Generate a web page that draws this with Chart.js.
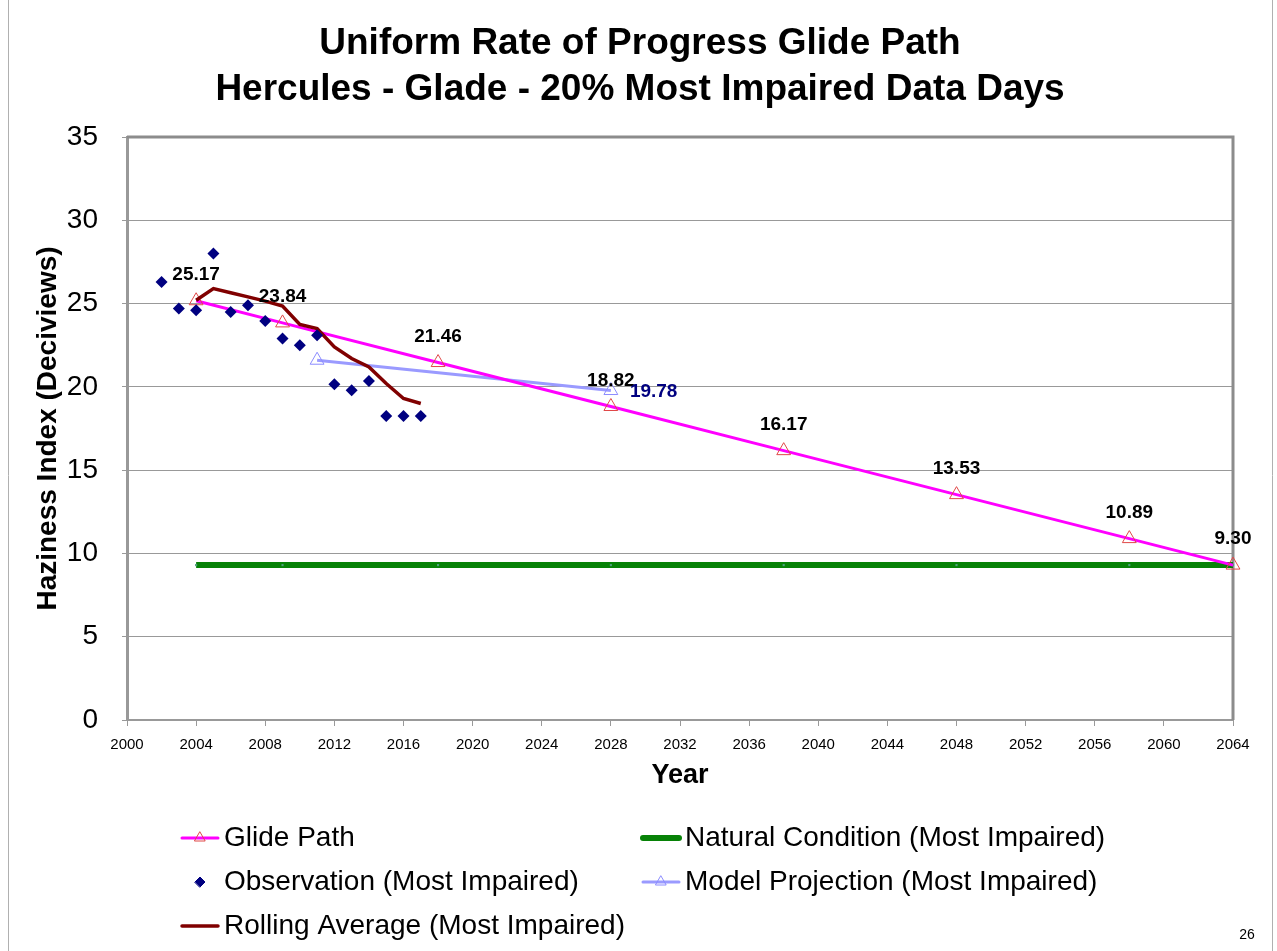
<!DOCTYPE html>
<html>
<head>
<meta charset="utf-8">
<script src="https://cdn.jsdelivr.net/npm/chart.js@4.4.1/dist/chart.umd.min.js"></script>
<style>
  html, body { margin: 0; padding: 0; background: #fff; }
  #wrap { position: relative; width: 1277px; height: 951px; }
</style>
</head>
<body>
<div id="wrap"><canvas id="chart" width="1277" height="951"></canvas></div>
<script>
// Glide path (uniform rate of progress)
const glideYears = [2004, 2009, 2018, 2028, 2038, 2048, 2058, 2064];
const glideValues = [25.17, 23.84, 21.46, 18.82, 16.17, 13.53, 10.89, 9.30];

// Natural condition (most impaired)
const naturalYears = [2004, 2009, 2018, 2028, 2038, 2048, 2058, 2064];
const naturalValues = [9.30, 9.30, 9.30, 9.30, 9.30, 9.30, 9.30, 9.30];

// Observations (most impaired)
const obsYears = [2002, 2003, 2004, 2005, 2006, 2007, 2008, 2009, 2010, 2011, 2012, 2013, 2014, 2015, 2016, 2017];
const obsValues = [26.3, 24.7, 24.6, 28.0, 24.5, 24.9, 23.95, 22.9, 22.5, 23.1, 20.15, 19.8, 20.35, 18.25, 18.25, 18.25];

// Model projection (most impaired)
const modelYears = [2011, 2028];
const modelValues = [21.6, 19.78];

// Rolling average (most impaired)
const rollYears = [2004, 2005, 2006, 2007, 2008, 2009, 2010, 2011, 2012, 2013, 2014, 2015, 2016, 2017];
const rollValues = [25.2, 25.9, 25.65, 25.4, 25.15, 24.85, 23.75, 23.5, 22.4, 21.7, 21.2, 20.2, 19.3, 19.0];

const xTicks = [2000, 2004, 2008, 2012, 2016, 2020, 2024, 2028, 2032, 2036, 2040, 2044, 2048, 2052, 2056, 2060, 2064];

const toXY = (xs, ys) => xs.map((x, i) => ({ x: x, y: ys[i] }));

const FONT = "'Liberation Sans', Arial, sans-serif";

// plot frame, title, value labels, legend and page number
const decorPlugin = {
    id: 'decor',
    beforeDatasetsDraw(chart) {
        const ctx = chart.ctx;
        const a = chart.chartArea;
        ctx.save();
        ctx.strokeStyle = '#8c8c8c';
        ctx.lineWidth = 3;
        ctx.beginPath();
        ctx.moveTo(a.left, a.top);
        ctx.lineTo(a.right, a.top);
        ctx.lineTo(a.right, a.bottom);
        ctx.stroke();
        // slide frame edges
        ctx.strokeStyle = '#b0b0b0';
        ctx.lineWidth = 1;
        ctx.beginPath();
        ctx.moveTo(8.5, 0);
        ctx.lineTo(8.5, 951);
        ctx.moveTo(1272.5, 0);
        ctx.lineTo(1272.5, 951);
        ctx.stroke();
        ctx.restore();
    },
    afterDatasetsDraw(chart) {
        const ctx = chart.ctx;
        ctx.save();
        // glide path value labels
        const glideMeta = chart.getDatasetMeta(0);
        ctx.font = 'bold 19px ' + FONT;
        ctx.fillStyle = '#000';
        ctx.textAlign = 'center';
        ctx.textBaseline = 'middle';
        glideMeta.data.forEach((pt, i) => {
            ctx.fillText(glideValues[i].toFixed(2), pt.x, pt.y - 26);
        });
        // model projection end label
        const modelMeta = chart.getDatasetMeta(3);
        const last = modelMeta.data[modelMeta.data.length - 1];
        ctx.fillStyle = '#000080';
        ctx.textAlign = 'left';
        ctx.fillText(modelValues[modelValues.length - 1].toFixed(2), last.x + 19, last.y + 1);
        ctx.restore();
    },
    afterDraw(chart) {
        const ctx = chart.ctx;
        ctx.save();
        ctx.fillStyle = '#000';
        ctx.textAlign = 'center';
        ctx.textBaseline = 'middle';
        ctx.font = 'bold 37px ' + FONT;
        ctx.fillText('Uniform Rate of Progress Glide Path', 640, 44);
        ctx.fillText('Hercules - Glade - 20% Most Impaired Data Days', 640, 90);

        // legend
        const items = [
            { ds: 0, x: 180, y: 838 },
            { ds: 1, x: 641, y: 838 },
            { ds: 2, x: 180, y: 882 },
            { ds: 3, x: 641, y: 882 },
            { ds: 4, x: 180, y: 926 }
        ];
        items.forEach(it => {
            const ds = chart.data.datasets[it.ds];
            const cx = it.x + 20;
            if (ds.showLine !== false) {
                ctx.strokeStyle = ds.borderColor;
                ctx.lineWidth = ds.legendWidth || ds.borderWidth;
                ctx.lineCap = 'round';
                ctx.beginPath();
                ctx.moveTo(it.x + 2, it.y);
                ctx.lineTo(it.x + 38, it.y);
                ctx.stroke();
            }
            if (ds.legendMarker) {
                ctx.fillStyle = ds.pointBackgroundColor;
                ctx.strokeStyle = ds.pointBorderColor;
                ctx.lineWidth = 1;
                Chart.helpers.drawPoint(ctx, {
                    pointStyle: ds.pointStyle,
                    radius: ds.legendMarker,
                    borderWidth: 1,
                    rotation: 0
                }, cx, it.y);
            }
            ctx.fillStyle = '#000';
            ctx.textAlign = 'left';
            ctx.font = '28px ' + FONT;
            ctx.fillText(ds.label, it.x + 44, it.y);
        });

        ctx.font = '14px ' + FONT;
        ctx.textAlign = 'center';
        ctx.fillText('26', 1247, 935);
        ctx.restore();
    }
};

new Chart(document.getElementById('chart'), {
    type: 'line',
    data: {
        datasets: [
            {
                label: 'Glide Path',
                data: toXY(glideYears, glideValues),
                borderColor: '#FF00FF',
                borderWidth: 3,
                pointStyle: 'triangle',
                pointRadius: 8,
                pointBorderWidth: 1,
                pointBorderColor: '#E04848',
                pointBackgroundColor: 'rgba(255,255,255,0)',
                legendMarker: 6,
                clip: false,
                order: 3
            },
            {
                label: 'Natural Condition (Most Impaired)',
                data: toXY(naturalYears, naturalValues),
                borderColor: '#078207',
                borderWidth: 6,
                legendWidth: 6,
                pointStyle: 'rect',
                pointRadius: 1.5,
                pointBorderWidth: 0,
                pointBackgroundColor: '#4f9f7f',
                clip: false,
                order: 5
            },
            {
                label: 'Observation (Most Impaired)',
                data: toXY(obsYears, obsValues),
                showLine: false,
                pointStyle: 'rectRot',
                pointRadius: 6,
                pointBorderWidth: 0,
                pointBackgroundColor: '#000080',
                pointBorderColor: '#000080',
                legendMarker: 5,
                order: 1
            },
            {
                label: 'Model Projection (Most Impaired)',
                data: toXY(modelYears, modelValues),
                borderColor: '#9A9AFF',
                borderWidth: 3,
                pointStyle: 'triangle',
                pointRadius: 8,
                pointBorderWidth: 1,
                pointBorderColor: '#8C8CFF',
                pointBackgroundColor: 'rgba(255,255,255,0)',
                legendMarker: 6,
                order: 4
            },
            {
                label: 'Rolling Average (Most Impaired)',
                data: toXY(rollYears, rollValues),
                borderColor: '#800000',
                borderWidth: 3.5,
                pointRadius: 0,
                order: 2
            }
        ]
    },
    options: {
        responsive: false,
        animation: false,
        layout: { padding: { left: 27, right: 44, top: 137, bottom: 155 } },
        plugins: {
            legend: { display: false },
            title: { display: false },
            tooltip: { enabled: false }
        },
        scales: {
            x: {
                type: 'linear',
                min: 2000,
                max: 2064,
                afterBuildTicks: s => { s.ticks = xTicks.map(v => ({ value: v })); },
                afterFit: s => { s.height = 76; },
                grid: { drawOnChartArea: false, drawTicks: true, tickLength: 6, color: '#999', lineWidth: 1 },
                border: { color: '#999', width: 2 },
                ticks: {
                    color: '#000',
                    padding: 10,
                    maxRotation: 0,
                    font: { family: FONT, size: 15 },
                    callback: v => String(v)
                },
                title: {
                    display: true,
                    text: 'Year',
                    color: '#000',
                    font: { family: FONT, size: 27, weight: 'bold' },
                    padding: { top: 2, bottom: 4 }
                }
            },
            y: {
                min: 0,
                max: 35,
                afterFit: s => { s.width = 100; },
                grid: { color: '#999', lineWidth: 1, tickLength: 5 },
                border: { color: '#999', width: 3 },
                ticks: {
                    stepSize: 5,
                    color: '#000',
                    padding: 24,
                    font: { family: FONT, size: 28 }
                },
                title: {
                    display: true,
                    text: 'Haziness Index (Deciviews)',
                    color: '#000',
                    font: { family: FONT, size: 28, weight: 'bold' },
                    padding: { top: 4, bottom: 4 }
                }
            }
        }
    },
    plugins: [decorPlugin]
});
</script>
</body>
</html>
